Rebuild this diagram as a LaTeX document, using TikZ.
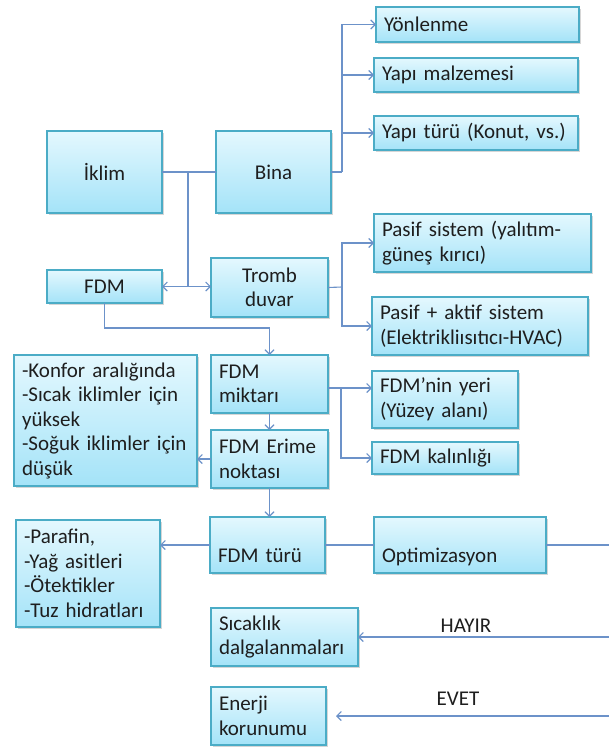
\documentclass[tikz,border=0pt]{standalone}
\usepackage{fontspec}
\setmainfont{Carlito}[WordSpace=0.75]
\usetikzlibrary{arrows.meta,shadows}
\definecolor{boxtop}{HTML}{E4F8FE}
\definecolor{boxbot}{HTML}{A4E3F8}
\definecolor{boxline}{HTML}{4BACC6}
\definecolor{conn}{HTML}{6C92C9}
\definecolor{txt}{HTML}{1E1E1E}
\tikzset{
  box/.style={draw=boxline, line width=1.1pt, top color=boxtop, bottom color=boxbot,
    rectangle, anchor=north west, inner xsep=8pt, inner ysep=0pt, outer sep=0pt,
    text=txt, font=\fontsize{21}{24.5}\selectfont, align=left,
    drop shadow={shadow xshift=1.5pt, shadow yshift=-1.5pt, fill=black!40, opacity=0.4}},
  cbox/.style={box, align=center},
  conline/.style={draw=conn, line width=1.1pt},
  arr/.style={conline, -{Straight Barb[length=4.5pt,width=9pt,line width=1.1pt]}},
  dblarr/.style={conline, {Straight Barb[length=4.5pt,width=9pt,line width=1.1pt]}-{Straight Barb[length=4.5pt,width=9pt,line width=1.1pt]}},
  lbl/.style={text=txt, font=\fontsize{21}{24.5}\selectfont, inner sep=0pt}
}
\begin{document}
\begin{tikzpicture}[x=1pt,y=-1pt]
\useasboundingbox (0,0) rectangle (609,747);
\fill[white] (0,0) rectangle (609,747);
% boxes
\node[box, minimum width=203pt, minimum height=35pt, text width=187pt] (yon) at (376,7) {Yönlenme};
\node[box, minimum width=204pt, minimum height=34pt, text width=188pt] (mal) at (374,58) {Yapı malzemesi};
\node[box, minimum width=204pt, minimum height=34pt, text width=188pt] (ytur) at (374,116) {Yapı türü (Konut, vs.)};
\node[cbox, minimum width=115pt, minimum height=82pt, text width=99pt] (iklim) at (47,131) {İklim};
\node[cbox, minimum width=115pt, minimum height=82pt, text width=99pt] (bina) at (216,131) {Bina};
\node[box, minimum width=217pt, minimum height=58pt, text width=201pt] (pasif) at (374,214) {Pasif sistem (yalıtım-\\güneş kırıcı)};
\node[cbox, minimum width=117pt, minimum height=59pt, text width=101pt] (trom) at (211,258) {Tromb\\duvar};
\node[cbox, minimum width=115pt, minimum height=33pt, text width=99pt] (fdm) at (47,270) {FDM};
\node[box, minimum width=216pt, minimum height=58pt, text width=200pt] (aktif) at (372,297) {Pasif + aktif sistem\\(Elektrikliısıtıcı-HVAC)};
\node[box, minimum width=183pt, minimum height=131pt, text width=167pt] (konfor) at (14,355) {-Konfor aralığında\\-Sıcak iklimler için\\yüksek\\-Soğuk iklimler için\\düşük};
\node[box, minimum width=117pt, minimum height=58pt, text width=101pt] (mik) at (211,355) {FDM\\miktarı};
\node[box, minimum width=146pt, minimum height=57pt, text width=130pt] (yeri) at (372,371) {FDM’nin yeri\\(Yüzey alanı)};
\node[box, minimum width=117pt, minimum height=58pt, text width=101pt] (erime) at (211,430) {FDM Erime\\noktası};
\node[box, minimum width=146pt, minimum height=32pt, text width=130pt] (kal) at (372,442) {FDM kalınlığı};
\node[box, minimum width=144pt, minimum height=107pt, text width=128pt] (par) at (16,520) {-Parafin,\\-Yağ asitleri\\-Ötektikler\\-Tuz hidratları};
\node[box, minimum width=115pt, minimum height=56pt, text width=99pt] (ftur) at (210,517) {\strut\\\strut FDM türü};
\node[box, minimum width=172pt, minimum height=56pt, text width=156pt] (opt) at (374,517) {\strut\\\strut Optimizasyon};
\node[box, minimum width=147pt, minimum height=58pt, text width=131pt] (sic) at (211,608) {Sıcaklık\\dalgalanmaları};
\node[box, minimum width=115pt, minimum height=58pt, text width=99pt] (en) at (211,687) {Enerji\\korunumu};
% labels
\node[lbl] (hayir) at (466,626) {HAYIR};
\node[lbl] (evet) at (458,699) {EVET};
% helper coordinates
\coordinate (j1) at (188,172);
\coordinate (bx) at (342,172);
\coordinate (tx) at (342,287);
\coordinate (c2) at (200,328);
\coordinate (m1) at (341,388);
\coordinate (e1) at (609,545);
\coordinate (e2) at (609,637);
\coordinate (e3) at (609,716);
% connectors
\draw[conline] (iklim.east) -- (bina.west);
\draw[conline] (j1) -- (j1 |- fdm.east);
\draw[dblarr] (fdm.east) -- (fdm.east -| trom.west);
\draw[conline] (bina.east) -- (bx);
\draw[arr] (bx) |- (yon.west);
\draw[arr] (bx) |- (mal.west);
\draw[arr] (bx) |- (ytur.west);
\draw[conline] (trom.east) -- (tx);
\draw[arr] (tx) |- (pasif.west);
\draw[arr] (tx) |- (aktif.west);
\draw[arr] (fdm.south) |- (c2) -| (mik.north);
\draw[arr] (mik.south) -- (erime.north);
\draw[arr] (mik.east |- m1) -- (yeri.west |- m1);
\draw[arr] (m1) |- (kal.west);
\draw[arr] (erime.west) -- (erime.west -| konfor.east);
\draw[arr] (erime.south) -- (ftur.north -| erime.south);
\draw[arr] (ftur.west) -- (ftur.west -| par.east);
\draw[conline] (ftur.east) -- (opt.west);
\draw[conline] (opt.east) -- (e1);
\draw[arr] (e2) -- (sic.east);
\draw[arr, shorten >=10pt] (e3) -- (e3 -| en.east);
\end{tikzpicture}
\end{document}
